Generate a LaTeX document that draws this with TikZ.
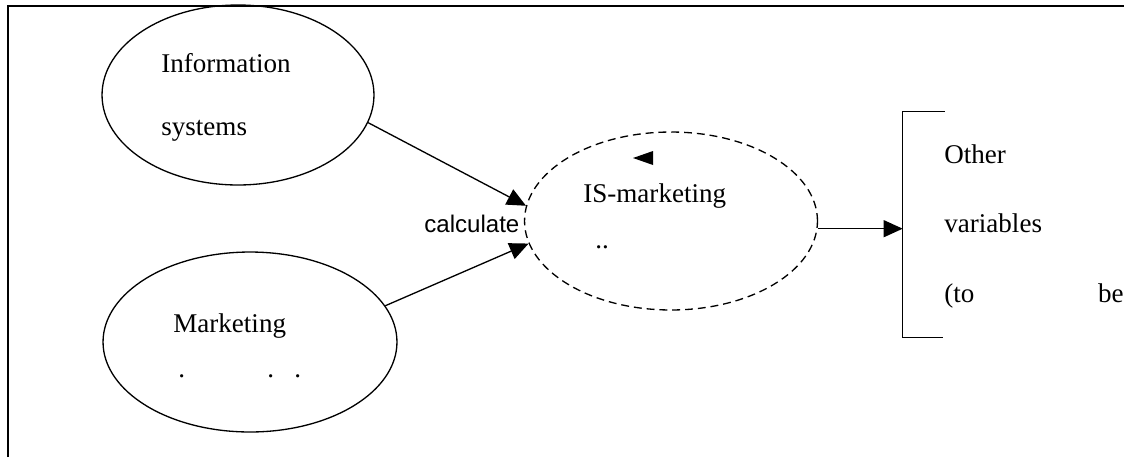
\documentclass[tikz,border=0pt]{standalone}
\usepackage{fontspec}
\setmainfont{Liberation Serif}
\setsansfont{Liberation Sans}
\usetikzlibrary{arrows.meta,shapes.geometric}

\begin{document}
\begin{tikzpicture}[
    x=0.02cm, y=-0.02cm,
    font=\fontsize{15.4}{18}\selectfont,
    >={Triangle[length=0.38cm, width=0.34cm]},
    oval/.style={ellipse, draw, line width=0.75pt, inner sep=0pt},
    dashedoval/.style={oval, dash pattern=on 4.5pt off 2.8pt},
    word/.style={anchor=base west, inner sep=0pt},
    arrow/.style={->, line width=0.75pt},
    frame/.style={line width=1.1pt}
]
\useasboundingbox (0,0) rectangle (1124,457);
% outer frame (top and left edges only)
\draw[frame] (8,457) -- (8,6) -- (1124,6);

% the three ovals
\node[oval, minimum width=5.44cm, minimum height=3.6cm] (info) at (238,95) {};
\node[oval, minimum width=5.88cm, minimum height=3.6cm] (mkt) at (250,342) {};
\node[dashedoval, minimum width=5.86cm, minimum height=3.56cm] (ism) at (671,221) {};
\node[inner sep=0pt, minimum width=4.42cm, minimum height=4.5cm] (others) at (1013.5,224.5) {};

% texts
\node[word] (infoa) at (161,72) {Information};
\node[word] (infob) at (161,135) {systems};
\node[word] (mkta) at (173,332) {Marketing};
\node[word] (mktb) at (178,377) {.};
\node[word] (mktc) at (267,377) {.};
\node[word] (mktd) at (294,377) {.};
\node[word] (isma) at (583,202) {IS-marketing};
\node[word] (ismb) at (595,248) {..};
\node[word, font=\sffamily\fontsize{13.7}{16}\selectfont] (calc) at (424,232) {calculate};
\node[word] (othera) at (944,163) {Other};
\node[word] (otherb) at (944,232) {variables};
\node[word] (otherc) at (944,302) {(to};
\node[anchor=base east, inner sep=0pt] (otherd) at (1124,302) {be};

% stray arrow tip above IS-marketing
\fill (633,158) -- (653,151) -- (653,165) -- cycle;

% bracket
\draw[line width=0.85pt] ([xshift=0.84cm]others.north west) -- (others.north west)
    -- (others.south west) -- ([xshift=0.8cm]others.south west);

% arrows
\draw[arrow] (info.-12) -- (ism.174);
\draw[arrow] (mkt.15) -- (ism.189);
\draw[arrow] (ism.-3) -- (ism.-3 -| others.west);
\end{tikzpicture}
\end{document}
